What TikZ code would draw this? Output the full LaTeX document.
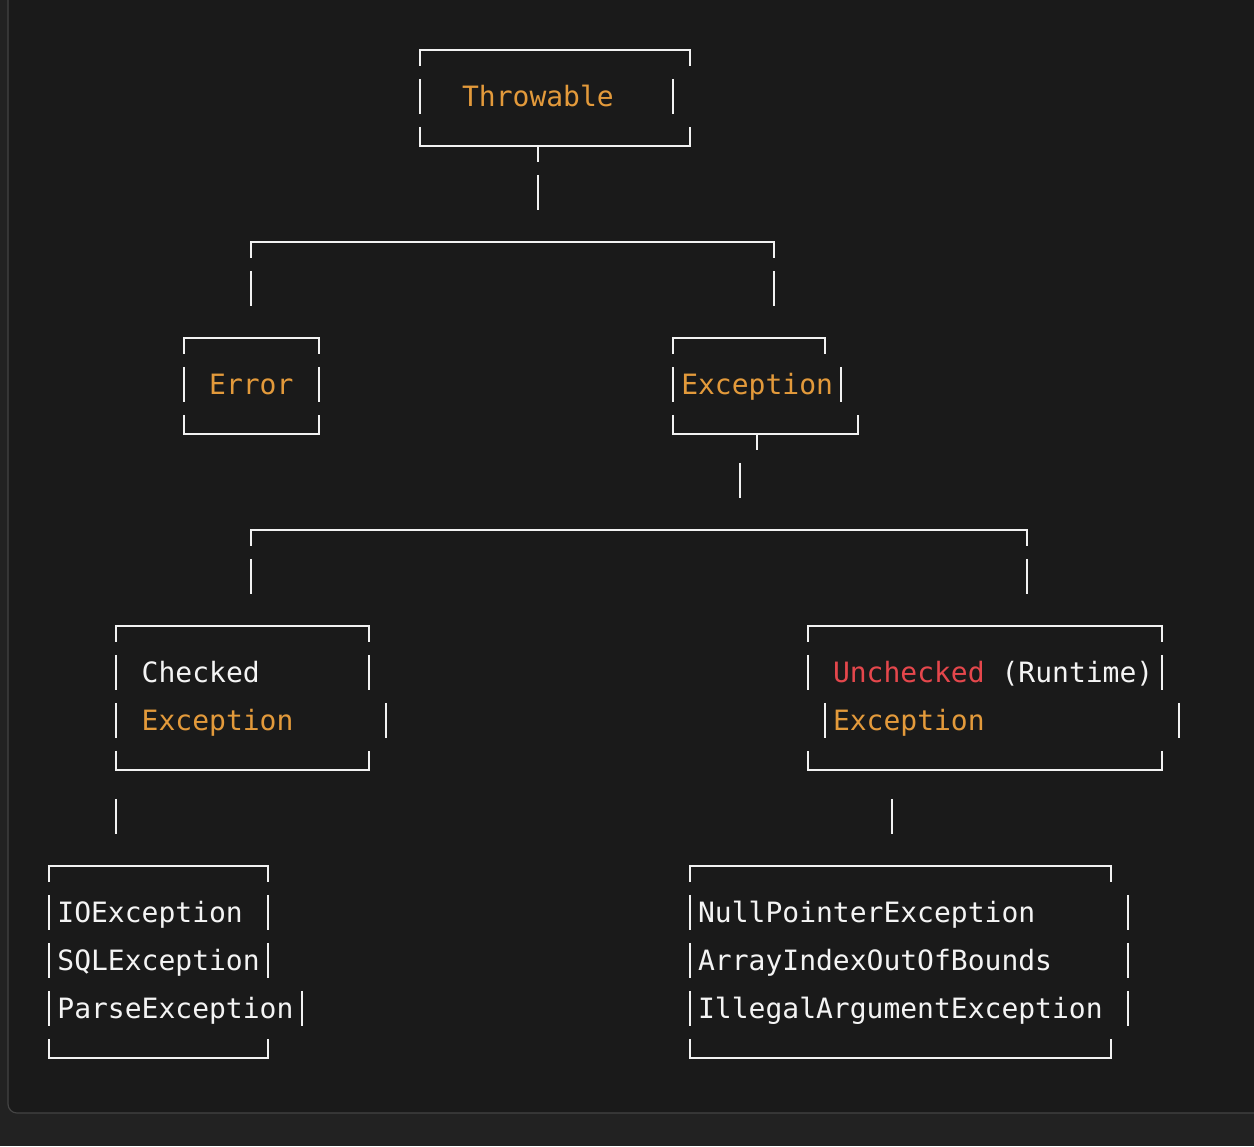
\documentclass[tikz,border=0pt]{standalone}
\usepackage{fontspec}
\setmonofont{DejaVu Sans Mono}
\definecolor{outerbg}{HTML}{222222}
\definecolor{panelbg}{HTML}{1A1A1A}
\definecolor{panelline}{HTML}{444444}
\definecolor{inkline}{HTML}{F2F2F2}
\definecolor{orangetxt}{HTML}{E39A3B}
\definecolor{redtxt}{HTML}{E5474C}
\definecolor{whitetxt}{HTML}{F4F4F4}
\newcommand\topbox[3]{\draw[ln] (#1,{#3+0.333}) -- (#1,#3) -- (#2,#3) -- (#2,{#3+0.333});}
\newcommand\botbox[3]{\draw[ln] (#1,{#3-0.40}) -- (#1,#3) -- (#2,#3) -- (#2,{#3-0.40});}
\newcommand\vbar[2]{\draw[ln] (#1,{#2-0.40}) -- (#1,{#2+0.333});}
\newcommand\teedown[2]{\draw[ln] (#1,#2) -- (#1,{#2+0.333});}
\begin{document}
\begin{tikzpicture}[x=16.86pt,y=-48pt,
  ln/.style={draw=inkline,line width=1.9pt,line join=miter,line cap=butt},
  txt/.style={anchor=base west,inner sep=0pt,outer sep=0pt,
    font=\fontsize{28}{34}\selectfont\ttfamily},
  org/.style={txt,text=orangetxt},
  wht/.style={txt,text=whitetxt},
  rd/.style={txt,text=redtxt}]
\useasboundingbox (-2.9063,-1.04167) rectangle (71.4709,22.8333);
\clip (-2.9063,-1.04167) rectangle (71.4709,22.8333);
\fill[outerbg] (-2.9063,-1.04167) rectangle (71.4709,22.8333);
\draw[panelline,fill=panelbg,line width=1.2pt,rounded corners=9pt]
  (-2.4318,-3) -- (-2.4318,22.146) -- (76,22.146) -- (76,-3);
% Throwable
\topbox{22}{38}{0}
\vbar{22}{1}\vbar{37}{1}
\botbox{22}{38}{2}\teedown{29}{2}
\node[org] (throwable) at (24.5,1.1667) {Throwable};
\vbar{29}{3}
\topbox{12}{43}{4}
\vbar{12}{5}\vbar{43}{5}
% Error
\topbox{8}{16}{6}
\vbar{8}{7}\vbar{16}{7}
\botbox{8}{16}{8}
\node[org] (error) at (9.5,7.1667) {Error};
% Exception
\topbox{37}{46}{6}
\vbar{37}{7}\vbar{47}{7}
\botbox{37}{48}{8}\teedown{42}{8}
\node[org] (exception) at (37.5,7.1667) {Exception};
\vbar{41}{9}
\topbox{12}{58}{10}
\vbar{12}{11}\vbar{58}{11}
% Checked
\topbox{4}{19}{12}
\vbar{4}{13}\vbar{19}{13}
\vbar{4}{14}\vbar{20}{14}
\botbox{4}{19}{15}
\node[wht] (checked) at (5.5,13.1667) {Checked};
\node[org] (checkedexc) at (5.5,14.1667) {Exception};
% Unchecked
\topbox{45}{66}{12}
\vbar{45}{13}\vbar{66}{13}
\vbar{46}{14}\vbar{67}{14}
\botbox{45}{66}{15}
\node[rd] (unchecked) at (46.5,13.1667) {Unchecked};
\node[wht] (runtime) at (56.5,13.1667) {(Runtime)};
\node[org] (uncheckedexc) at (46.5,14.1667) {Exception};
\vbar{4}{16}\vbar{50}{16}
% Leaf left
\topbox{0}{13}{17}
\vbar{0}{18}\vbar{13}{18}
\vbar{0}{19}\vbar{13}{19}
\vbar{0}{20}\vbar{15}{20}
\botbox{0}{13}{21}
\node[wht] (ioexc) at (0.5,18.1667) {IOException};
\node[wht] (sqlexc) at (0.5,19.1667) {SQLException};
\node[wht] (parseexc) at (0.5,20.1667) {ParseException};
% Leaf right
\topbox{38}{63}{17}
\vbar{38}{18}\vbar{64}{18}
\vbar{38}{19}\vbar{64}{19}
\vbar{38}{20}\vbar{64}{20}
\botbox{38}{63}{21}
\node[wht] (npe) at (38.5,18.1667) {NullPointerException};
\node[wht] (aioob) at (38.5,19.1667) {ArrayIndexOutOfBounds};
\node[wht] (iae) at (38.5,20.1667) {IllegalArgumentException};
\end{tikzpicture}
\end{document}
